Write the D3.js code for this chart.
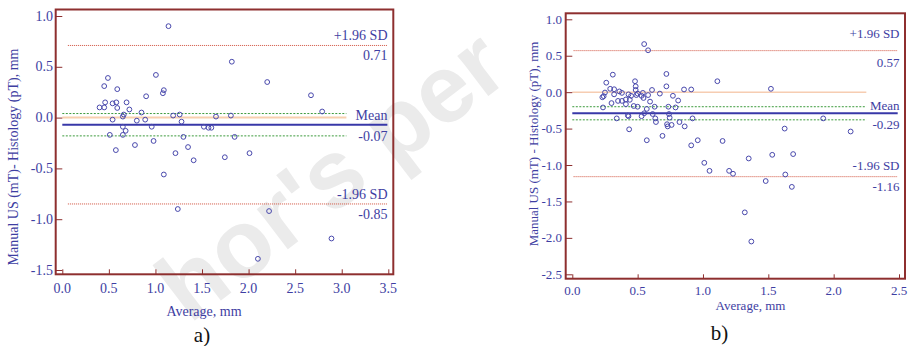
<!DOCTYPE html>
<html><head><meta charset="utf-8">
<script src="https://cdn.jsdelivr.net/npm/d3@7"></script>
<style>
html,body{margin:0;padding:0;background:#fff;}
svg{display:block;}
text{font-family:"Liberation Serif","Times New Roman",serif;}
</style></head>
<body>
<svg id="chart" width="913" height="346"></svg>
<script>
// ---------- DATA ----------
const aAverage = [1.14,1.82,2.20,2.67,2.79,1.005,1.09,1.08,0.90,0.49,0.45,0.59,0.40,0.45,0.46,0.54,0.58,0.59,0.69,0.72,0.66,0.65,0.54,0.85,0.80,0.89,0.65,0.68,0.65,0.51,0.575,0.78,0.96,0.98,1.19,1.26,1.28,1.30,1.215,1.35,1.41,1.09,1.24,1.52,1.57,1.60,1.65,1.81,1.85,1.745,2.01,2.22,2.10,2.89];
const aDifference = [0.90,0.55,0.35,0.22,0.06,0.42,0.27,0.24,0.21,0.39,0.31,0.28,0.10,0.10,0.15,0.14,0.15,0.095,0.15,0.08,0.03,0.01,-0.02,0.05,-0.03,-0.02,-0.09,-0.13,-0.17,-0.17,-0.32,-0.27,-0.09,-0.23,0.02,0.03,-0.04,-0.19,-0.35,-0.29,-0.42,-0.56,-0.90,-0.09,-0.10,-0.10,0.01,0.02,-0.19,-0.39,-0.35,-0.92,-1.39,-1.19];
const bAverage = [0.55,0.58,1.11,1.52,1.92,2.13,1.625,1.53,1.69,1.35,1.63,1.48,1.68,1.32,1.37,1.01,1.05,1.20,1.23,1.15,0.96,0.91,0.92,0.86,0.82,0.855,0.91,0.81,0.77,0.79,0.72,0.72,0.735,0.74,0.745,0.725,0.73,0.76,0.69,0.67,0.61,0.595,0.63,0.615,0.635,0.64,0.57,0.55,0.53,0.57,0.58,0.54,0.545,0.53,0.50,0.47,0.49,0.485,0.485,0.48,0.50,0.45,0.44,0.43,0.41,0.43,0.425,0.435,0.38,0.38,0.35,0.36,0.32,0.32,0.29,0.31,0.30,0.34,0.26,0.25,0.24,0.23,0.235,0.41];
const bDifference = [0.66,0.575,0.15,0.046,-0.36,-0.54,-0.50,-0.86,-0.85,-0.91,-1.13,-1.22,-1.30,-1.65,-2.05,-0.97,-1.08,-1.08,-1.12,-0.67,-0.66,-0.73,-0.36,-0.47,-0.41,0.037,0.037,-0.115,-0.05,-0.21,0.25,0.08,-0.20,-0.30,-0.35,-0.44,-0.47,-0.45,-0.60,-0.02,0.03,-0.13,-0.20,-0.30,-0.36,-0.41,-0.23,-0.29,-0.33,-0.66,-0.04,-0.01,-0.08,-0.05,-0.20,-0.19,-0.04,0.03,0.08,0.15,-0.02,-0.05,-0.105,-0.03,-0.165,-0.33,-0.32,-0.51,-0.01,-0.12,-0.12,0.01,-0.03,0.04,0.046,0.24,-0.15,-0.36,0.13,-0.005,-0.055,-0.07,-0.21,-0.10];

// limits: [upper 1.96 SD, mean, lower 1.96 SD]
const aLimits = [0.71, -0.07, -0.85];
const bLimits = [0.57, -0.29, -1.16];
// 95% CI of mean
const aMeanCI = [0.04, -0.18];
const bMeanCI = [-0.20, -0.38];
const aLimitLabels = ["+1.96 SD", "Mean", "-1.96 SD"];
const bLimitLabels = ["+1.96 SD", "Mean", "-1.96 SD"];

const aXTicks = [0.0,0.5,1.0,1.5,2.0,2.5,3.0,3.5];
const aYTicks = [1.0,0.5,0.0,-0.5,-1.0,-1.5];
const bXTicks = [0.0,0.5,1.0,1.5,2.0,2.5];
const bYTicks = [1.0,0.5,0.0,-0.5,-1.0,-1.5,-2.0,-2.5];

const aTitles = ["Average, mm", "Manual US (mT)- Histology (pT), mm", "a)"];
const bTitles = ["Average, mm", "Manual US (mT) - Histology (pT), mm", "b)"];
const watermark = "Author's personal copy";

// ---------- STYLE ----------
const FRAME = "#8e2f2f";
const TXT = "#3e3ea2";
const PT = "#4848ac";
const REDLINE = "#d0503c";
const GREEN = "#3c9a3c";
const ORANGE = "#f6c6a0";
const fmt = v => v.toFixed(1).replace("\u2212","-");
const fmt2 = v => v.toFixed(2);

const svg = d3.select("#chart");
const W = 913, H = 346;

// watermark: placed letter by letter along a rotated baseline, keeping only letters inside the picture
(function(){
  const fs = 96, ang = -37.4, rad = ang*Math.PI/180;
  const font = `bold ${fs}px 'Liberation Sans', Arial, sans-serif`;
  const ctx = document.createElement("canvas").getContext("2d");
  ctx.font = font;
  const startIdx = 2;
  const base0 = ctx.measureText(watermark.slice(0,startIdx)).width;
  const P = [164, 344];
  const wg = svg.append("g");
  for (let i=0;i<watermark.length;i++){
    const ch = watermark[i];
    if (ch === " ") continue;
    const off = ctx.measureText(watermark.slice(0,i)).width - base0;
    const px = P[0] + off*Math.cos(rad), py = P[1] + off*Math.sin(rad);
    const t = wg.append("text")
      .attr("transform",`translate(${px.toFixed(1)},${py.toFixed(1)}) rotate(${ang})`)
      .style("font-family","'Liberation Sans',Arial,sans-serif")
      .style("font-weight","bold").style("font-size",fs+"px")
      .attr("fill","#ebebeb").text(ch);
    const r = t.node().getBoundingClientRect();
    if (r.left < 0 || r.top < 0 || r.right > W || r.bottom > H) t.remove();
  }
})();

function panel(cfg){
  const g = svg.append("g");
  const x = d3.scaleLinear().domain(cfg.xDomain).range(cfg.xRange);
  const y = d3.scaleLinear().domain(cfg.yDomain).range(cfg.yRange);
  const F = cfg.frame; // [left, top, right, bottom]
  const L = cfg.limits;

  g.append("line").attr("x1",x(0)).attr("x2",x(cfg.shortEnd)).attr("y1",y(0)).attr("y2",y(0))
    .attr("stroke",cfg.zeroC).attr("stroke-width",cfg.zeroW);
  cfg.ci.forEach(v=>{
    g.append("line").attr("x1",x(0)).attr("x2",x(cfg.shortEnd)).attr("y1",y(v)).attr("y2",y(v))
      .attr("stroke",GREEN).attr("stroke-width",1).attr("stroke-dasharray","2,1.5");
  });
  [L[0],L[2]].forEach(v=>{
    g.append("line").attr("x1",x(cfg.sdStart)).attr("x2",x(cfg.longEnd)).attr("y1",y(v)).attr("y2",y(v))
      .attr("stroke",REDLINE).attr("stroke-width",1).attr("stroke-dasharray","1,1");
  });
  g.append("line").attr("x1",x(0)).attr("x2",x(cfg.longEnd)).attr("y1",y(L[1])).attr("y2",y(L[1]))
    .attr("stroke","#3838a8").attr("stroke-width",2);

  g.selectAll("circle.pt").data(cfg.avg.map((v,i)=>[v,cfg.diff[i]])).enter().append("circle")
    .attr("cx",d=>x(d[0])).attr("cy",d=>y(d[1])).attr("r",2.4)
    .attr("fill","none").attr("stroke",PT).attr("stroke-width",1);

  L.forEach((v,i)=>{
    g.append("text").attr("x",cfg.labelX).attr("y",y(v)+cfg.lblAbove[i]).attr("text-anchor","end")
      .attr("fill",TXT).style("font-size",cfg.fs+"px").text(cfg.limitLabels[i]);
    g.append("text").attr("x",cfg.labelX).attr("y",y(v)+cfg.lblBelow[i]).attr("text-anchor","end")
      .attr("fill",TXT).style("font-size",cfg.fs+"px").text(fmt2(v));
  });

  g.append("rect").attr("x",F[0]).attr("y",F[1]).attr("width",F[2]-F[0]).attr("height",F[3]-F[1])
    .attr("fill","none").attr("stroke",FRAME).attr("stroke-width",2);

  const xAxis = d3.axisTop(x).tickValues(cfg.xTicks).tickSize(F[3]-cfg.xTickEnd).tickFormat("");
  const xg = g.append("g").attr("transform",`translate(0,${F[3]})`).call(xAxis);
  xg.select(".domain").remove();
  xg.selectAll("line").attr("stroke",FRAME).attr("stroke-width",1);
  const yAxis = d3.axisRight(y).tickValues(cfg.yTicks).tickSize(cfg.yTickEnd-F[0]).tickFormat("");
  const yg = g.append("g").attr("transform",`translate(${F[0]},0)`).call(yAxis);
  yg.select(".domain").remove();
  yg.selectAll("line").attr("stroke",FRAME).attr("stroke-width",1);

  g.selectAll("text.xl").data(cfg.xTicks).enter().append("text")
    .attr("x",d=>x(d)).attr("y",cfg.xLabelY).attr("text-anchor","middle")
    .attr("fill",TXT).style("font-size",cfg.fs+"px").text(fmt);
  g.selectAll("text.yl").data(cfg.yTicks).enter().append("text")
    .attr("x",cfg.yLabelX).attr("y",d=>y(d)+4.5).attr("text-anchor","end")
    .attr("fill",TXT).style("font-size",cfg.fs+"px").text(fmt);

  g.append("text").attr("x",cfg.xTitle[0]).attr("y",cfg.xTitle[1]).attr("text-anchor","middle")
    .attr("fill",TXT).style("font-size",cfg.fs+"px").text(cfg.titles[0]);
  g.append("text").attr("transform",`translate(${cfg.yTitle[0]},${cfg.yTitle[1]}) rotate(-90)`)
    .attr("text-anchor","middle").attr("fill",TXT).style("font-size",cfg.fs+"px").text(cfg.titles[1]);
  g.append("text").attr("x",cfg.tag[0]).attr("y",cfg.tag[1]).attr("text-anchor","middle")
    .attr("fill","#111").style("font-size","21px").text(cfg.titles[2]);
}

panel({
  avg:aAverage, diff:aDifference, limits:aLimits, ci:aMeanCI, limitLabels:aLimitLabels,
  xTicks:aXTicks, yTicks:aYTicks, titles:aTitles,
  xDomain:[0,3.5], xRange:[62.3,388.3], yDomain:[-1.5,1.0], yRange:[270,16],
  frame:[55.7,9.5,393.3,274.3], xTickEnd:269.3, yTickEnd:62.3,
  shortEnd:3.05, longEnd:3.49, sdStart:0.06, zeroW:2, zeroC:"#f8cfae",
  labelX:387.5, lblAbove:[-5,-4.5,-4.5], lblBelow:[15,16,15],
  xLabelY:293, yLabelX:53, fs:14,
  xTitle:[204,316], yTitle:[17.5,157], tag:[202,342]
});

panel({
  avg:bAverage, diff:bDifference, limits:bLimits, ci:bMeanCI, limitLabels:bLimitLabels,
  xTicks:bXTicks, yTicks:bYTicks, titles:bTitles,
  xDomain:[0,2.5], xRange:[572.3,899], yDomain:[-2.5,1.0], yRange:[274.3,19.3],
  frame:[565.7,13.3,905,278.7], xTickEnd:274.3, yTickEnd:572.3,
  shortEnd:2.25, longEnd:2.49, sdStart:0.01, zeroW:1, zeroC:"#f2b48a",
  labelX:899.5, lblAbove:[-12.5,-3,-6.5], lblBelow:[16.5,16,14],
  xLabelY:295, yLabelX:562, fs:13,
  xTitle:[750.5,309.5], yTitle:[538,144], tag:[719.5,339.5]
});
</script>
</body></html>
